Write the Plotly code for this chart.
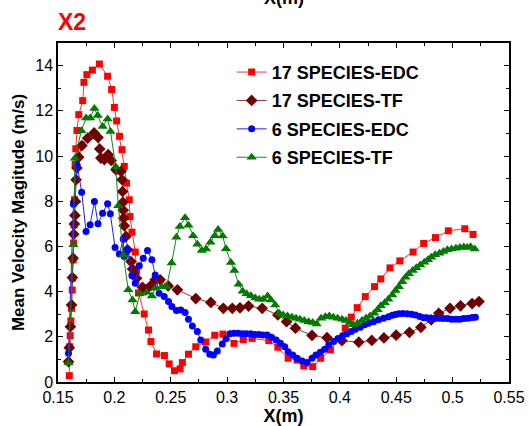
import plotly.graph_objects as go

# 17 SPECIES-EDC
edc17_x = [0.1600, 0.1604, 0.1608, 0.1614, 0.1620, 0.1626, 0.1630, 0.1634, 0.1638, 0.1642,
           0.1646, 0.1652, 0.1658, 0.1668, 0.1684, 0.1719, 0.1730, 0.1756, 0.1805, 0.1867,
           0.1940, 0.1976, 0.2000, 0.2020, 0.2046, 0.2068, 0.2088, 0.2108, 0.2132, 0.2138,
           0.2156, 0.2185, 0.2197, 0.2214, 0.2265, 0.2303, 0.2324, 0.2374, 0.2444, 0.2486,
           0.2533, 0.2583, 0.2603, 0.2657, 0.2722, 0.2810, 0.2890, 0.2963, 0.3061, 0.3143,
           0.3222, 0.3370, 0.3450, 0.3541, 0.3620, 0.3680, 0.3759, 0.3830, 0.3916, 0.4048,
           0.4101, 0.4154, 0.4225, 0.4307, 0.4363, 0.4444, 0.4532, 0.4649, 0.4743, 0.4848,
           0.4962, 0.5108, 0.5181]
edc17_y = [0.28, 1.56, 2.05, 2.70, 3.26, 4.07, 4.60, 5.40, 6.15, 6.95,
           8.06, 9.64, 10.32, 11.13, 11.83, 12.45, 13.26, 13.60, 13.80, 14.07,
           13.53, 12.94, 12.15, 11.55, 10.87, 10.28, 9.54, 8.80, 8.06, 7.32,
           6.63, 5.75, 4.96, 3.94, 3.01, 2.30, 1.79, 1.24, 1.17, 0.80,
           0.50, 0.58, 0.86, 1.23, 1.56, 1.77, 2.07, 2.12, 1.71, 1.87,
           1.93, 1.83, 1.54, 1.05, 0.97, 0.71, 0.68, 1.05, 1.42, 2.38,
           2.87, 3.29, 3.78, 4.22, 4.56, 5.05, 5.36, 5.75, 6.13, 6.39,
           6.69, 6.78, 6.53]

# 17 SPECIES-TF
tf17_x = [0.1593, 0.1600, 0.1610, 0.1620, 0.1628, 0.1634, 0.1640, 0.1645, 0.1650, 0.1655,
          0.1661, 0.1668, 0.1684, 0.1712, 0.1763, 0.1820, 0.1855, 0.1870, 0.1880, 0.1911,
          0.1945, 0.1972, 0.2015, 0.2059, 0.2068, 0.2073, 0.2076, 0.2079, 0.2082, 0.2088,
          0.2103, 0.2117, 0.2147, 0.2161, 0.2176, 0.2197, 0.2250, 0.2280, 0.2324, 0.2362,
          0.2406, 0.2477, 0.2559, 0.2722, 0.2855, 0.2966, 0.3046, 0.3114, 0.3190, 0.3311,
          0.3450, 0.3527, 0.3606, 0.3753, 0.3886, 0.4018, 0.4168, 0.4283, 0.4391, 0.4499,
          0.4617, 0.4719, 0.4810, 0.4877, 0.4977, 0.5070, 0.5173, 0.5234]
tf17_y = [0.90, 1.52, 2.45, 3.41, 4.62, 5.48, 6.54, 6.99, 7.37, 7.99,
          8.95, 9.47, 9.95, 10.46, 10.79, 11.02, 10.82, 10.31, 9.91, 9.84,
          10.06, 9.80, 9.38, 9.32, 8.95, 8.43, 7.95, 7.60, 7.25, 6.91,
          6.44, 5.85, 5.33, 5.00, 4.78, 4.59, 4.19, 4.08, 4.27, 4.52,
          4.52, 4.25, 4.08, 3.69, 3.52, 3.26, 3.26, 3.28, 3.36, 3.26,
          2.97, 2.67, 2.38, 2.06, 1.96, 1.83, 1.76, 1.84, 1.95, 2.07,
          2.20, 2.42, 2.75, 3.04, 3.26, 3.37, 3.47, 3.56]

# 6 SPECIES-EDC
edc6_x = [0.1593, 0.1637, 0.1670, 0.1710, 0.1749, 0.1785, 0.1823, 0.1855, 0.1896, 0.1940,
          0.1964, 0.2006, 0.2044, 0.2079, 0.2088, 0.2115, 0.2156, 0.2185, 0.2221, 0.2256,
          0.2294, 0.2333, 0.2362, 0.2397, 0.2442, 0.2480, 0.2510, 0.2550, 0.2589, 0.2627,
          0.2657, 0.2692, 0.2736, 0.2766, 0.2810, 0.2846, 0.2878, 0.2913, 0.2957, 0.2990,
          0.3025, 0.3061, 0.3099, 0.3134, 0.3169, 0.3208, 0.3246, 0.3282, 0.3317, 0.3355,
          0.3394, 0.3435, 0.3473, 0.3511, 0.3541, 0.3582, 0.3620, 0.3665, 0.3709, 0.3753,
          0.3788, 0.3827, 0.3865, 0.3901, 0.3945, 0.3983, 0.4024, 0.4062, 0.4101, 0.4137,
          0.4181, 0.4219, 0.4254, 0.4298, 0.4343, 0.4387, 0.4431, 0.4465, 0.4494, 0.4523,
          0.4558, 0.4596, 0.4635, 0.4670, 0.4708, 0.4743, 0.4772, 0.4807, 0.4845, 0.4883,
          0.4918, 0.4956, 0.4991, 0.5029, 0.5064, 0.5099, 0.5137, 0.5173, 0.5202]
edc6_y = [1.27, 7.87, 9.60, 8.40, 6.66, 6.96, 7.99, 7.00, 7.47, 7.89,
          7.44, 5.95, 5.66, 6.32, 5.55, 5.85, 4.70, 4.37, 5.14, 5.48,
          5.82, 5.41, 4.74, 3.93, 3.78, 3.56, 3.34, 3.16, 3.19, 3.07,
          2.78, 2.48, 2.23, 1.86, 1.45, 1.23, 1.20, 1.37, 1.68, 1.91,
          2.13, 2.16, 2.16, 2.13, 2.13, 2.13, 2.10, 2.10, 2.08, 2.08,
          1.98, 1.86, 1.71, 1.56, 1.34, 1.20, 1.05, 0.93, 0.86, 1.05,
          1.20, 1.32, 1.45, 1.64, 1.79, 1.93, 2.05, 2.13, 2.23, 2.33,
          2.42, 2.53, 2.60, 2.67, 2.75, 2.82, 2.89, 2.95, 2.99, 3.02,
          3.03, 3.02, 3.00, 2.97, 2.90, 2.84, 2.84, 2.82, 2.82, 2.82,
          2.81, 2.81, 2.78, 2.78, 2.78, 2.81, 2.82, 2.85, 2.87]

# 6 SPECIES-TF
tf6_x = [0.1593, 0.1637, 0.1650, 0.1707, 0.1749, 0.1785, 0.1823, 0.1852, 0.1896, 0.1940,
         0.1966, 0.2012, 0.2035, 0.2079, 0.2123, 0.2161, 0.2185, 0.2226, 0.2288, 0.2333,
         0.2362, 0.2420, 0.2462, 0.2508, 0.2550, 0.2580, 0.2627, 0.2657, 0.2698, 0.2736,
         0.2775, 0.2813, 0.2852, 0.2890, 0.2920, 0.2960, 0.2990, 0.3034, 0.3064, 0.3102,
         0.3138, 0.3173, 0.3211, 0.3250, 0.3285, 0.3320, 0.3359, 0.3388, 0.3426, 0.3462,
         0.3497, 0.3536, 0.3575, 0.3611, 0.3646, 0.3684, 0.3723, 0.3759, 0.3794, 0.3833,
         0.3871, 0.3906, 0.3942, 0.3980, 0.4019, 0.4054, 0.4089, 0.4119, 0.4157, 0.4196,
         0.4231, 0.4267, 0.4305, 0.4335, 0.4363, 0.4398, 0.4430, 0.4465, 0.4494, 0.4523,
         0.4553, 0.4582, 0.4611, 0.4646, 0.4678, 0.4713, 0.4749, 0.4781, 0.4810, 0.4845,
         0.4883, 0.4918, 0.4953, 0.4991, 0.5029, 0.5064, 0.5099, 0.5129, 0.5158, 0.5196]
tf6_y = [0.85, 6.07, 9.90, 11.12, 11.68, 11.68, 12.10, 11.79, 11.30, 11.64,
         11.08, 9.52, 7.80, 5.63, 4.08, 3.63, 3.11, 3.90, 3.97, 3.80,
         4.15, 4.22, 4.22, 5.26, 6.40, 6.88, 7.27, 6.94, 6.47, 6.10,
         5.82, 5.88, 6.18, 6.47, 6.75, 6.46, 5.90, 5.29, 4.93, 4.33,
         4.02, 3.90, 3.82, 3.72, 3.66, 3.66, 3.81, 3.63, 3.41, 3.04,
         2.97, 2.92, 2.87, 2.82, 2.78, 2.72, 2.67, 2.63, 2.57, 2.82,
         2.89, 2.92, 2.87, 2.82, 2.78, 2.72, 2.63, 2.53, 2.60, 2.72,
         2.82, 2.92, 3.04, 3.20, 3.37, 3.51, 3.66, 3.85, 4.05, 4.22,
         4.44, 4.64, 4.79, 4.93, 5.06, 5.18, 5.30, 5.41, 5.52, 5.63,
         5.70, 5.77, 5.85, 5.88, 5.92, 5.95, 5.97, 5.95, 5.99, 5.89]

x_ticks = [0.15, 0.2, 0.25, 0.3, 0.35, 0.4, 0.45, 0.5, 0.55]
x_tick_text = ["0.15", "0.2", "0.25", "0.3", "0.35", "0.4", "0.45", "0.5", "0.55"]
y_ticks = [0, 2, 4, 6, 8, 10, 12, 14]

FONT = "Arial, Liberation Sans, sans-serif"

fig = go.Figure()
fig.add_trace(go.Scatter(
    x=edc17_x, y=edc17_y, mode="lines+markers", name="17 SPECIES-EDC", legendgroup="a",
    line=dict(color="#ff3030", width=1),
    marker=dict(symbol="square", size=7, color="#ff0000", line=dict(width=0))))
fig.add_trace(go.Scatter(
    x=tf17_x, y=tf17_y, mode="lines+markers", name="17 SPECIES-TF", legendgroup="b",
    line=dict(color="#8e3a3a", width=1),
    marker=dict(symbol="diamond", size=9, color="#700000", line=dict(width=0))))
fig.add_trace(go.Scatter(
    x=edc6_x, y=edc6_y, mode="lines+markers", name="6 SPECIES-EDC", legendgroup="c",
    line=dict(color="#2020ff", width=1),
    marker=dict(symbol="circle", size=7, color="#0000ff", line=dict(width=0))))
fig.add_trace(go.Scatter(
    x=tf6_x, y=tf6_y, mode="lines+markers", name="6 SPECIES-TF", legendgroup="d",
    line=dict(color="#208020", width=1),
    marker=dict(symbol="triangle-up", size=9, color="#007a00", line=dict(width=0))))

axis_common = dict(
    showline=True, linecolor="black", linewidth=1.5, mirror="allticks",
    ticks="inside", ticklen=5, tickwidth=1, tickcolor="black",
    showgrid=False, zeroline=False, automargin=False,
    tickfont=dict(family=FONT, size=16, color="black"),
)

fig.update_xaxes(
    range=[0.15, 0.55], tickvals=x_ticks, ticktext=x_tick_text,
    minor=dict(ticks="inside", ticklen=3, dtick=0.025, tick0=0.15, tickcolor="black"),
    title=dict(text="<b>X(m)</b>", font=dict(family=FONT, size=18, color="black"), standoff=2),
    **axis_common)
fig.update_yaxes(
    range=[0, 15], tickvals=y_ticks,
    minor=dict(ticks="inside", ticklen=3, dtick=1, tick0=0, tickcolor="black"),
    title=dict(text="<b>Mean Velocity Magitude (m/s)</b>",
               font=dict(family=FONT, size=17, color="black"), standoff=6),
    **axis_common)

fig.add_annotation(text="<b>X2</b>", xref="paper", yref="paper", x=-0.004, y=1.0,
                   xanchor="left", yanchor="bottom", yshift=6, showarrow=False,
                   font=dict(family=FONT, size=23, color="#ff0000"))
fig.add_annotation(text="<b>X(m)</b>", xref="paper", yref="paper", x=0.5, y=1.0,
                   xanchor="center", yanchor="bottom", yshift=33, showarrow=False,
                   font=dict(family=FONT, size=18, color="black"))

fig.update_layout(
    width=529, height=426,
    margin=dict(l=58, r=20, t=43, b=44),
    paper_bgcolor="white", plot_bgcolor="white",
    showlegend=True,
    legend=dict(x=0.385, y=0.968, xanchor="left", yanchor="top",
                bgcolor="rgba(0,0,0,0)", borderwidth=0, traceorder="grouped",
                font=dict(family=FONT, size=18, color="black", weight="bold"),
                itemwidth=30, tracegroupgap=2),
)

fig.write_html("out.html")
